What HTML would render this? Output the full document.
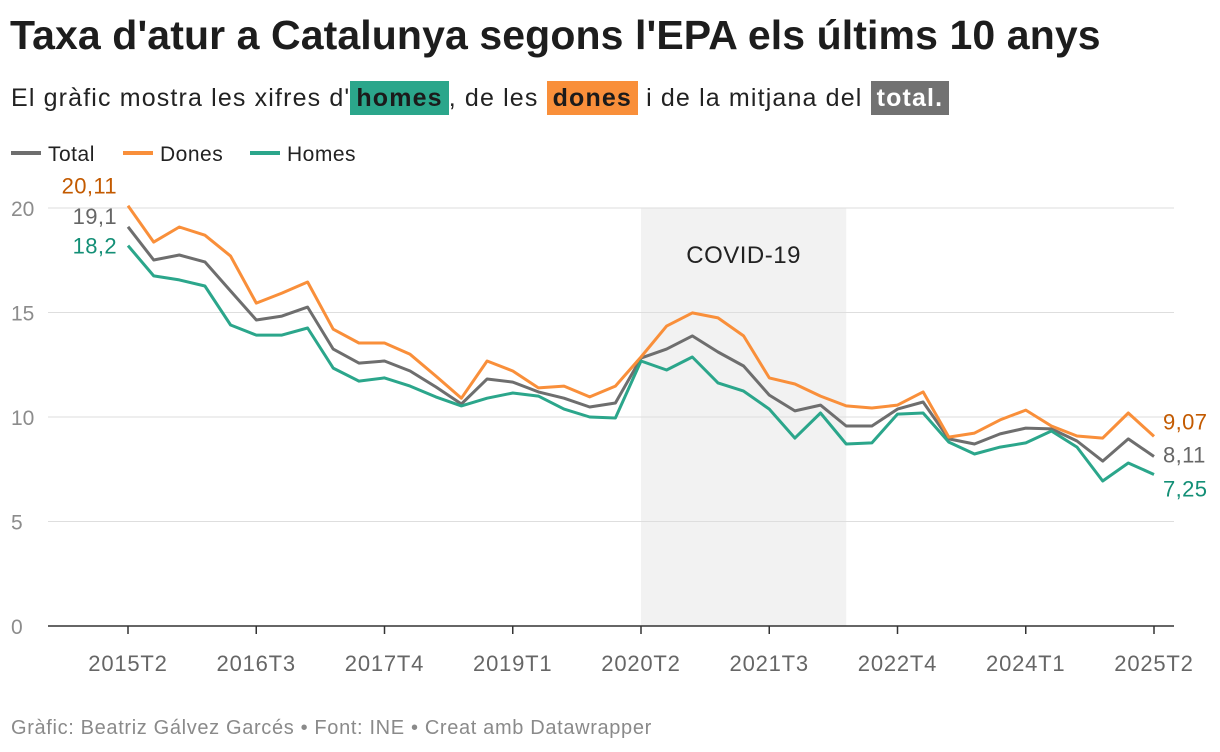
<!DOCTYPE html>
<html><head><meta charset="utf-8">
<style>
body{margin:0;width:1220px;height:752px;background:#fff;font-family:"Liberation Sans",sans-serif;overflow:hidden;position:relative}
#title{position:absolute;left:10px;top:12px;font-size:41px;font-weight:bold;color:#1d1d1d;letter-spacing:0.1px}
#sub{position:absolute;left:11px;top:81px;font-size:25px;color:#222;letter-spacing:1.15px;line-height:34px}
.hl{padding:3px 6px;font-weight:bold}
#foot{position:absolute;left:11px;top:717px;font-size:20px;color:#8a8a8a;letter-spacing:0.65px}
svg{position:absolute;left:0;top:0}
</style></head><body>
<div id="title">Taxa d'atur a Catalunya segons l'EPA els últims 10 anys</div>
<div id="sub">El gràfic mostra les xifres d'<span class="hl" style="background:#2ba68b;color:#1b1b1b">homes</span>, de les <span class="hl" style="background:#f98f3a;color:#1b1b1b">dones</span> i de la mitjana del <span class="hl" style="background:#727272;color:#fff">total.</span></div>
<div id="foot">Gràfic: Beatriz Gálvez Garcés • Font: INE • Creat amb Datawrapper</div>
<svg id="chart" width="1220" height="752"></svg>
<script>
const categories=[];for(let y=2015,q=2;categories.length<41;){categories.push(y+'T'+q);q++;if(q>4){q=1;y++;}}
const tickLabels=['2015T2','2016T3','2017T4','2019T1','2020T2','2021T3','2022T4','2024T1','2025T2'];
const yTicks=[0,5,10,15,20];
const dones=[20.11,18.37,19.09,18.7,17.7,15.45,15.93,16.46,14.2,13.54,13.54,13.0,11.96,10.9,12.68,12.2,11.39,11.48,10.96,11.48,12.87,14.35,14.98,14.74,13.88,11.87,11.58,11.0,10.53,10.43,10.57,11.2,9.04,9.23,9.86,10.33,9.57,9.09,8.99,10.19,9.07];
const total=[19.1,17.51,17.75,17.42,16.03,14.64,14.83,15.26,13.25,12.58,12.68,12.2,11.44,10.62,11.82,11.67,11.2,10.9,10.48,10.67,12.82,13.25,13.88,13.11,12.44,11.05,10.29,10.57,9.57,9.57,10.38,10.72,8.95,8.71,9.19,9.47,9.43,8.85,7.89,8.95,8.11];
const homes=[18.2,16.75,16.56,16.27,14.4,13.92,13.92,14.26,12.34,11.72,11.87,11.48,10.96,10.53,10.9,11.15,11.0,10.38,10.0,9.95,12.68,12.25,12.87,11.63,11.24,10.38,8.99,10.19,8.71,8.76,10.14,10.19,8.8,8.23,8.56,8.76,9.33,8.56,6.94,7.8,7.25];
const covidRange=['2020T2','2022T2'];
const fmt=v=>String(v).replace('.',',');
const X0=128,X1=1154,Y0=626,Y1=208;
const xs=c=>X0+(X1-X0)*categories.indexOf(c)/(categories.length-1);
const xi=i=>X0+(X1-X0)*i/(categories.length-1);
const ys=v=>Y0-(Y0-Y1)*v/20;
const svg=document.getElementById('chart');const NS='http://www.w3.org/2000/svg';
function mk(t,a,txt){const e=document.createElementNS(NS,t);for(const k in a)e.setAttribute(k,a[k]);if(txt!=null)e.textContent=txt;svg.appendChild(e);return e;}
let e=mk('rect',{x:xs(covidRange[0]),y:Y1,width:xs(covidRange[1])-xs(covidRange[0]),height:Y0-Y1,fill:'#f2f2f2'});


e=mk('text',{x:(xs(covidRange[0])+xs(covidRange[1]))/2,y:263,'text-anchor':'middle','font-size':24,fill:'#222','letter-spacing':0.5},'COVID-19');


yTicks.forEach(v=>{
 e=mk('line',{x1:48,x2:1174,y1:ys(v),y2:ys(v),stroke:v?'#dedede':'#333','stroke-width':v?1:1.5});
 
 
 e=mk('text',{x:11,y:ys(v)+8,'font-size':21,fill:'#8c8c8c'},v);
 
 
});
tickLabels.forEach(t=>{
 mk('line',{x1:xs(t),x2:xs(t),y1:Y0,y2:Y0+8,stroke:'#333','stroke-width':1.5});
 e=mk('text',{x:xs(t),y:671,'text-anchor':'middle','font-size':22,fill:'#666','letter-spacing':0.8},t);
 
 
});
const series=[['total',total,'#6e6e6e'],['dones',dones,'#f98f3a'],['homes',homes,'#2ba68b']];
series.forEach(([n,d,c])=>{
 e=mk('path',{d:d.map((v,i)=>(i?'L':'M')+xi(i).toFixed(1)+','+ys(v).toFixed(1)).join(''),fill:'none',stroke:c,'stroke-width':3,'stroke-linejoin':'round'});
 
 
});
const L=categories.length-1;
[[dones,'#c35a00',-12,'dones'],[total,'#666',-3,'total'],[homes,'#138f76',8,'homes']].forEach(([d,c,dy,n])=>{
 e=mk('text',{x:X0-11,y:ys(d[0])+dy,'text-anchor':'end','font-size':22,fill:c,'letter-spacing':0.4},fmt(d[0]));
 
 
});
[[dones,'#c35a00',-7,'dones'],[total,'#666',6,'total'],[homes,'#138f76',22,'homes']].forEach(([d,c,dy,n])=>{
 e=mk('text',{x:1163,y:ys(d[L])+dy,'font-size':22,fill:c,'letter-spacing':0.4},fmt(d[L]));
 
 
});
[['Total','#6e6e6e',11],['Dones','#f98f3a',123],['Homes','#2ba68b',250]].forEach(([t,c,x])=>{
 e=mk('line',{x1:x,x2:x+30,y1:153,y2:153,stroke:c,'stroke-width':4});
 
 
 e=mk('text',{x:x+37,y:161,'font-size':21,fill:'#222','letter-spacing':0.5},t);
 
 
});
</script>
</body></html>
